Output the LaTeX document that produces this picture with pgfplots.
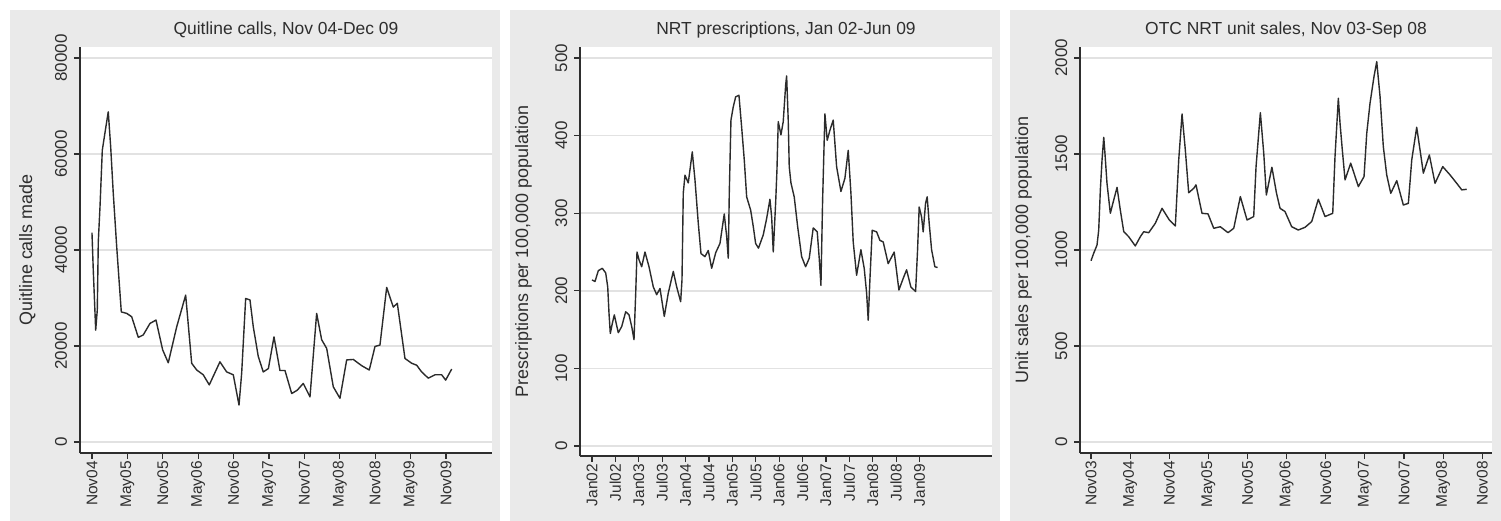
\documentclass[border=0pt]{standalone}
\usepackage{fontspec}
\setmainfont{Liberation Sans}
\usepackage{pgfplots}
\pgfplotsset{compat=1.18}
\definecolor{panelgray}{HTML}{EAEAEA}
\definecolor{gridgray}{HTML}{E2E2E2}
\definecolor{inkgray}{HTML}{2E2E2E}
\definecolor{linegray}{HTML}{2B2B2B}

\pgfplotsset{stata/.style={
  scale only axis, width=412bp,
  anchor=south west,
  axis background/.style={fill=white},
  axis x line=bottom, axis y line=left,
  axis line style={draw=inkgray, line width=1.3bp, -},
  tick align=outside, major tick length=6bp,
  tick style={draw=inkgray, line width=1.2bp},
  ymajorgrids, grid style={draw=gridgray, line width=1.6bp},
  scaled y ticks=false, scaled x ticks=false,
  title style={font=\fontsize{17.5}{18}\selectfont, text=inkgray, at={(axis description cs:0.5,1)}, anchor=base, yshift=6.3bp},
  ylabel style={font=\fontsize{18}{18}\selectfont, text=inkgray, anchor=base},
  yticklabel style={font=\fontsize{17}{17}\selectfont, text=inkgray, xshift=-7bp, rotate=90, anchor=base},
  xticklabel style={font=\fontsize{15.5}{16}\selectfont, text=inkgray, rotate=90, anchor=east, inner sep=2bp},
},
stataline/.style={draw=linegray, line width=1.4bp, mark=none, line join=round}}

\begin{document}
\begin{tikzpicture}
\path[use as bounding box] (0,0) rectangle (1501bp,521bp);
\fill[white] (0,0) rectangle (1501bp,521bp);
\fill[panelgray] (10bp,0) rectangle (500bp,511bp);
\fill[panelgray] (510bp,0) rectangle (1000bp,511bp);
\fill[panelgray] (1010bp,0) rectangle (1501bp,511bp);

% Panel 1: Quitline calls
\begin{axis}[stata, at={(80bp,68bp)}, height=406bp,
  xmin=-2.03, xmax=67.8, ymin=-2292, ymax=82292,
  xtick={0,6,...,60},
  xticklabels={Nov04,May05,Nov05,May06,Nov06,May07,Nov07,May08,Nov08,May09,Nov09},
  ytick={0,20000,40000,60000,80000},
  yticklabels={0,20000,40000,60000,80000},
  title={Quitline calls, Nov 04-Dec 09},
  ylabel={Quitline calls made},
  ylabel style={at={(axis description cs:-0.1165,0.5)}}]
\addplot[stataline] coordinates {
(0,43600) (0.22,35800) (0.63,23300) (0.9,27500) (1.07,41700) (1.36,49000)
(1.75,60800) (2.2,64400) (2.76,68800) (3.17,61500) (3.61,51800) (4.19,40700)
(4.63,33000) (4.97,27100) (5.88,26800) (6.73,26100) (7.85,21800) (8.69,22300)
(9.83,24700) (10.85,25400) (11.98,19200) (12.93,16500) (14.36,24000) (15.88,30600)
(16.9,16400) (17.75,15000) (18.86,14000) (19.88,11900) (21.69,16700) (22.83,14600)
(23.95,14000) (24.92,7700) (25.37,14300) (26.05,29900) (26.78,29600) (27.34,24000)
(28.19,17800) (29.03,14600) (29.9,15300) (30.85,21900) (31.86,14900) (32.71,14900)
(33.85,10100) (34.8,10800) (35.81,12200) (36.95,9400) (38.08,26800) (38.93,21300)
(39.78,19500) (40.9,11500) (42.03,9100) (43.17,17100) (44.29,17200) (45.71,15900)
(47,15000) (47.97,19900) (48.81,20200) (49.95,32200) (51.07,28100) (51.75,28900)
(53.05,17400) (54.19,16400) (55.03,16000) (55.88,14600) (57,13300) (58.14,14000)
(59.27,14000) (59.95,12900) (60.97,15200)
};
\end{axis}

% Panel 2: NRT prescriptions
\begin{axis}[stata, at={(580bp,65bp)}, height=409bp,
  xmin=-3.08, xmax=102.6, ymin=-12.9, ymax=514.2,
  xtick={0,6,...,84},
  xticklabels={Jan02,Jul02,Jan03,Jul03,Jan04,Jul04,Jan05,Jul05,Jan06,Jul06,Jan07,Jul07,Jan08,Jul08,Jan09},
  ytick={0,100,200,300,400,500},
  yticklabels={0,100,200,300,400,500},
  title={NRT prescriptions, Jan 02-Jun 09},
  ylabel={Prescriptions per 100,000 population},
  ylabel style={at={(axis description cs:-0.1262,0.5)}}]
\addplot[stataline] coordinates {
(0,214) (0.77,212) (1.62,226) (2.64,229) (3.51,223) (4.03,205) (4.36,171)
(4.69,145) (5.21,158) (5.72,169) (6.74,146) (7.62,154) (8.64,173) (9.49,169)
(10.18,154) (10.77,137) (11.21,197) (11.54,250) (12.05,240) (12.74,231) (13.59,250)
(14.62,231) (15.72,205) (16.59,195) (17.44,203) (18.54,167) (19.56,197) (20.85,225)
(21.72,205) (22.74,186) (23.08,214) (23.41,326) (23.85,349) (24.69,339) (25.13,356)
(25.72,379) (26.41,343) (27.26,287) (27.95,248) (28.97,244) (29.82,252) (30.69,229)
(31.72,249) (32.82,261) (33.92,299) (34.54,270) (34.95,242) (35.21,326) (35.64,420)
(36.23,437) (36.85,450) (37.69,452) (38.38,411) (39.05,369) (39.67,321) (40.69,304)
(41.36,283) (41.97,261) (42.7,255) (43.92,272) (44.79,293) (45.64,318) (46.08,295)
(46.49,250) (47.1,313) (47.44,356) (47.77,418) (48.46,401) (49.05,418) (49.67,465)
(49.92,477) (50.33,420) (50.59,360) (51.03,339) (51.87,321) (52.74,283) (53.77,244)
(54.79,231) (55.72,242) (56.74,281) (57.77,276) (58.28,242) (58.72,207) (59.15,317)
(59.74,428) (60.33,394) (61.03,407) (61.87,420) (62.74,360) (63.85,328) (64.87,345)
(65.72,381) (66.41,326) (67,263) (67.87,220) (68.97,253) (69.82,229) (70.44,197)
(70.85,162) (71.28,214) (71.87,278) (73,276) (73.85,265) (74.69,263) (75.97,235)
(77.51,250) (78.72,201) (79.82,216) (80.69,227) (81.79,205) (83,199) (83.51,253)
(83.92,308) (84.54,295) (84.95,276) (85.56,313) (85.97,321) (86.49,287) (87.1,253)
(87.95,231) (88.64,230)
};
\end{axis}

% Panel 3: OTC NRT unit sales
\begin{axis}[stata, at={(1080bp,68bp)}, height=406bp,
  xmin=-1.69, xmax=61.5, ymin=-57.3, ymax=2057,
  xtick={0,6,...,60},
  xticklabels={Nov03,May04,Nov04,May05,Nov05,May06,Nov06,May07,Nov07,May08,Nov08},
  ytick={0,500,1000,1500,2000},
  yticklabels={0,500,1000,1500,2000},
  title={OTC NRT unit sales, Nov 03-Sep 08},
  ylabel={Unit sales per 100,000 population},
  ylabel style={at={(axis description cs:-0.1262,0.5)}}]
\addplot[stataline] coordinates {
(0,944) (0.41,983) (0.92,1026) (1.18,1104) (1.43,1313) (1.69,1469) (1.95,1587)
(2.1,1521) (2.45,1347) (2.96,1191) (3.48,1260) (3.99,1326) (4.49,1208) (5.02,1095)
(5.78,1069) (6.79,1021) (7.56,1069) (8.08,1095) (8.85,1090) (9.86,1139) (10.89,1217)
(12.01,1156) (12.93,1125) (13.45,1469) (13.96,1708) (14.46,1521) (14.98,1298)
(15.75,1321) (16.1,1339) (17.02,1191) (17.94,1188) (18.82,1113) (19.83,1121)
(21.01,1090) (21.89,1113) (22.9,1278) (23.93,1156) (24.95,1174) (25.31,1434)
(25.97,1715) (26.49,1504) (26.89,1286) (27.74,1431) (28.45,1295) (28.99,1217)
(29.75,1200) (30.78,1121) (31.79,1104) (32.82,1118) (33.85,1148) (34.86,1264)
(35.89,1174) (37.07,1191) (37.42,1486) (37.93,1790) (38.19,1660) (38.54,1521)
(38.96,1365) (39.83,1452) (41,1330) (41.87,1382) (42.29,1608) (42.79,1764)
(43.4,1903) (43.82,1981) (44.33,1798) (44.83,1538) (45.35,1391) (45.97,1295)
(46.89,1361) (47.9,1234) (48.67,1243) (49.19,1469) (49.95,1639) (50.46,1521)
(50.97,1400) (51.89,1495) (52.76,1347) (53.94,1434) (55.06,1391) (56.09,1347)
(56.86,1313) (57.62,1316)
};
\end{axis}
\end{tikzpicture}
\end{document}
